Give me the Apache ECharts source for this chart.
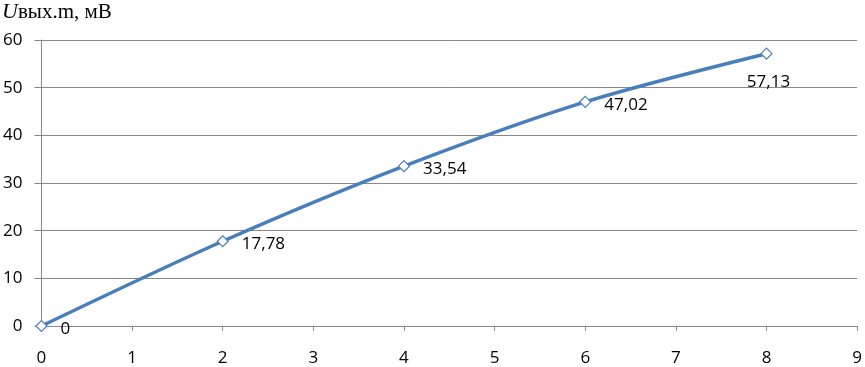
<!DOCTYPE html>
<html><head><meta charset="utf-8">
<script src="https://cdn.jsdelivr.net/npm/echarts@6/dist/echarts.min.js"></script>
<style>html,body{margin:0;padding:0;background:#fff}#c{width:865px;height:367px}</style>
</head><body><div id="c"></div>
<script>
const xValues = [0, 2, 4, 6, 8];
const yValues = [0, 17.78, 33.54, 47.02, 57.13];
const labelTexts = ['0', '17,78', '33,54', '47,02', '57,13'];
const yTitle = 'вых.m, мВ';

const chart = echarts.init(document.getElementById('c'), null, {renderer: 'canvas'});
const fontF = '"Open Sans", "Liberation Sans", sans-serif';
const data = xValues.map((x, i) => {
  const d = {value: [x, yValues[i]]};
  if (i === xValues.length - 1) {
    d.label = {position: 'bottom', offset: [2, 9]};
  } else {
    d.label = {position: 'right', offset: [8, 3]};
  }
  return d;
});
chart.setOption({
  animation: false,
  grid: {left: 41, right: 6, top: 40, bottom: 41},
  graphic: [{
    type: 'text', left: 2, top: 1,
    style: {
      text: '{i|U}{n|' + yTitle + '}',
      rich: {
        i: {fontFamily: '"Liberation Serif", serif', fontStyle: 'italic', fontSize: 22, fill: '#000'},
        n: {fontFamily: '"Liberation Serif", serif', fontSize: 21, fill: '#000'}
      }
    }
  }],
  xAxis: {
    type: 'value', min: 0, max: 9, interval: 1,
    axisLine: {show: true, lineStyle: {color: '#888', width: 1}},
    axisTick: {show: true, length: 5, lineStyle: {color: '#888'}},
    splitLine: {show: false},
    axisLabel: {color: '#000', fontSize: 17, fontFamily: fontF, margin: 24}
  },
  yAxis: {
    type: 'value', min: 0, max: 60, interval: 10,
    axisLine: {show: true, lineStyle: {color: '#888', width: 1}},
    axisTick: {show: true, length: 7, lineStyle: {color: '#888'}},
    splitLine: {show: true, lineStyle: {color: '#888', width: 1}},
    axisLabel: {color: '#000', fontSize: 17, fontFamily: fontF, margin: 19}
  },
  series: [{
    type: 'line', smooth: 0.3, data: data,
    symbol: 'diamond', symbolSize: 11,
    lineStyle: {color: '#4a7ebb', width: 3.5},
    itemStyle: {color: '#fff', borderColor: '#4a7ebb', borderWidth: 1.2},
    label: {
      show: true, color: '#000', fontSize: 17, fontFamily: fontF,
      formatter: p => labelTexts[p.dataIndex]
    },
    z: 5
  }]
});
</script></body></html>
